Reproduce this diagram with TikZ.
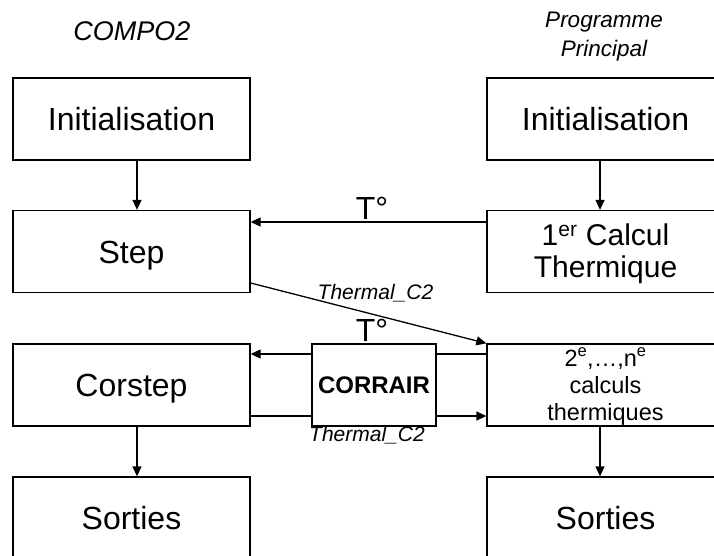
\documentclass[tikz,border=0pt]{standalone}
\usepackage{fontspec}
\setmainfont{Liberation Sans}
\usetikzlibrary{arrows.meta}
\begin{document}
\begin{tikzpicture}[x=1pt,y=-1pt,
  box/.style={draw, line width=1.3pt, minimum width=237pt, minimum height=82pt, inner sep=0pt,
    font=\fontsize{32}{38}\selectfont, text height=23pt, text depth=0pt},
  arr/.style={line width=1.3pt, -{Triangle[length=10pt,width=9pt]}},
  ln/.style={line width=1.3pt},
  lab/.style={anchor=base, inner sep=0pt}]
\useasboundingbox (0,0) rectangle (714,555);
\clip (0,0) rectangle (714,555);
% titles
\node[lab, font=\itshape\fontsize{27}{32}\selectfont] (t1) at (132,40) {COMPO2};
\node[lab, font=\itshape\fontsize{22.5}{28}\selectfont] (t2a) at (604,27.7) {Programme};
\node[lab, font=\itshape\fontsize{22.5}{28}\selectfont] (t2b) at (604,56) {Principal};
% left column
\node[box] (li) at (131.5,119) {Initialisation};
\node[box] (ls) at (131.5,251.5) {Step};
\node[box] (lc) at (131.5,385) {Corstep};
\node[box] (lo) at (131.5,518) {Sorties};
% right column
\node[box] (ri) at (605.5,119) {Initialisation};
\node[box, font=\fontsize{30}{31.6}\selectfont, align=center, text height=51.6pt, text depth=0pt] (rc) at (605.5,251.5) {1\textsuperscript{er} Calcul\\Thermique};
\node[box, font=\fontsize{23.5}{27}\selectfont, align=center, text height=70pt, text depth=0pt] (rn) at (605.5,385) {2\textsuperscript{e},…,n\textsuperscript{e}\\calculs\\thermiques};
\node[box] (ro) at (605.5,518) {Sorties};
% CORRAIR
\node[draw, line width=1.3pt, minimum width=124pt, minimum height=82pt, inner sep=0pt,
  font=\bfseries\fontsize{24}{28}\selectfont] (cor) at (374,385) {CORRAIR};
% vertical arrows
\draw[arr] ([xshift=5.5pt]li.south) -- ([xshift=5.5pt]ls.north);
\draw[arr] ([xshift=5.5pt]lc.south) -- ([xshift=5.5pt]lo.north);
\draw[arr] ([xshift=-5.5pt]ri.south) -- ([xshift=-5.5pt]rc.north);
\draw[arr] ([xshift=-5.5pt]rn.south) -- ([xshift=-5.5pt]ro.north);
% T degree arrow
\draw[arr] ([yshift=29.5pt]rc.west) -- ([yshift=29.5pt]ls.east);
\node[lab, font=\fontsize{32}{38}\selectfont] (tdeg1) at (372,219.3) {T°};
% diagonal
\draw[arr] ([yshift=-31.5pt]ls.east) -- (rn.north west);
\node[lab, font=\itshape\fontsize{21}{25}\selectfont] (th1) at (375.5,299.5) {Thermal\_C2};
% CORRAIR connectors
\draw[ln] ([yshift=31pt]rn.west) -- ([yshift=31pt]cor.east);
\draw[arr] ([yshift=31pt]cor.west) -- ([yshift=31pt]lc.east);
\draw[ln] ([yshift=-31pt]lc.east) -- ([yshift=-31pt]cor.west);
\draw[arr] ([yshift=-31pt]cor.east) -- ([yshift=-31pt]rn.west);
\node[lab, font=\fontsize{32}{38}\selectfont] (tdeg2) at (372,341.7) {T°};
\node[lab, font=\itshape\fontsize{21}{25}\selectfont] (th2) at (367,441.5) {Thermal\_C2};
\end{tikzpicture}
\end{document}
